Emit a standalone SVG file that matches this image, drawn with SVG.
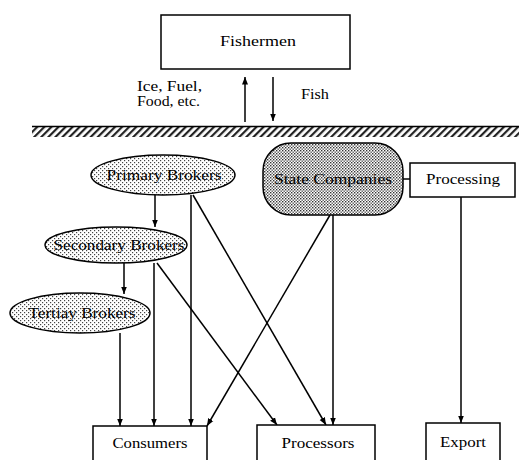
<svg xmlns="http://www.w3.org/2000/svg" width="519" height="460" viewBox="0 0 519 460">
<style>
  .box { fill: #fff; stroke: #000; stroke-width: 1.5; }
  .lbl { font-family: "Liberation Serif", "DejaVu Serif", serif; font-size: 15px; fill: #000; text-anchor: middle; }
  .side { font-family: "Liberation Serif", "DejaVu Serif", serif; font-size: 14px; fill: #000; }
  .conn { stroke: #000; stroke-width: 1.5; fill: none; }
  .arr { marker-end: url(#ah); }
  .oval { fill: url(#dots); stroke: #000; stroke-width: 1.5; }
</style>
<defs>
  <pattern id="dots" width="4" height="4" patternUnits="userSpaceOnUse">
    <rect width="4" height="4" fill="#fff"/>
    <rect x="0" y="0" width="1.2" height="1.2" fill="#444"/>
    <rect x="2" y="2" width="1.2" height="1.2" fill="#444"/>
  </pattern>
  <pattern id="dots2" width="3" height="3" patternUnits="userSpaceOnUse">
    <rect width="3" height="3" fill="#fff"/>
    <rect x="0" y="0" width="1.4" height="1.4" fill="#333"/>
    <rect x="1.5" y="1.5" width="1.4" height="1.4" fill="#555"/>
  </pattern>
  <pattern id="hatch" width="5" height="5" patternUnits="userSpaceOnUse" patternTransform="rotate(45)">
    <rect width="5" height="5" fill="#fff"/>
    <rect width="2.2" height="5" fill="#222"/>
  </pattern>
  <marker id="ah" viewBox="0 0 10 10" refX="10" refY="5" markerWidth="5" markerHeight="5" orient="auto" markerUnits="strokeWidth">
    <path d="M0,1 L10,5 L0,9 z" fill="#000"/>
  </marker>
</defs>

<rect x="32" y="126" width="487" height="11" fill="url(#hatch)"/>
<line x1="32" y1="126.5" x2="519" y2="126.5" stroke="#000" stroke-width="1.5"/>

<g id="connectors">
  <line class="conn arr" x1="245" y1="122" x2="245" y2="77"/>
  <line class="conn arr" x1="273" y1="77" x2="273" y2="121"/>
  <line class="conn arr" x1="155" y1="195" x2="155" y2="227"/>
  <line class="conn arr" x1="124" y1="263" x2="124" y2="294"/>
  <line class="conn arr" x1="191" y1="195" x2="191" y2="426"/>
  <line class="conn arr" x1="193" y1="195" x2="326" y2="425"/>
  <line class="conn arr" x1="154" y1="263" x2="154" y2="426"/>
  <line class="conn arr" x1="157" y1="263" x2="277" y2="425"/>
  <line class="conn arr" x1="120" y1="333" x2="120" y2="426"/>
  <line class="conn arr" x1="333" y1="215" x2="333" y2="425"/>
  <line class="conn arr" x1="330" y1="215" x2="207" y2="426"/>
  <line class="conn arr" x1="461" y1="197" x2="461" y2="423"/>
  <line class="conn" x1="403" y1="179" x2="410" y2="179"/>
</g>

<g id="fishermen">
  <rect class="box" x="161" y="15" width="189" height="54"/>
  <text class="lbl" x="258" y="46" textLength="76" lengthAdjust="spacingAndGlyphs">Fishermen</text>
</g>
<g id="label-inputs">
  <text class="side" x="137" y="91" textLength="65" lengthAdjust="spacingAndGlyphs">Ice, Fuel,</text>
  <text class="side" x="137" y="106" textLength="63" lengthAdjust="spacingAndGlyphs">Food, etc.</text>
</g>
<g id="label-fish">
  <text class="side" x="301" y="99" textLength="28" lengthAdjust="spacingAndGlyphs">Fish</text>
</g>

<g id="primary-brokers">
  <ellipse class="oval" cx="163" cy="175" rx="72" ry="20"/>
  <text class="lbl" x="164" y="180" textLength="115" lengthAdjust="spacingAndGlyphs">Primary Brokers</text>
</g>
<g id="secondary-brokers">
  <ellipse class="oval" cx="116" cy="245" rx="71" ry="18"/>
  <text class="lbl" x="119" y="250" textLength="131" lengthAdjust="spacingAndGlyphs">Secondary Brokers</text>
</g>
<g id="tertiary-brokers">
  <ellipse class="oval" cx="80" cy="313" rx="70" ry="20"/>
  <text class="lbl" x="82" y="318" textLength="107" lengthAdjust="spacingAndGlyphs">Tertiay Brokers</text>
</g>
<g id="state-companies">
  <rect x="263" y="143" width="140" height="72" rx="28" ry="28" fill="url(#dots2)" stroke="#000" stroke-width="1.5"/>
  <text class="lbl" x="333" y="184" textLength="118" lengthAdjust="spacingAndGlyphs">State Companies</text>
</g>
<g id="processing">
  <rect class="box" x="410" y="163" width="105" height="34"/>
  <text class="lbl" x="463" y="184" textLength="74" lengthAdjust="spacingAndGlyphs">Processing</text>
</g>
<g id="consumers">
  <path class="box" d="M93,461 V426 H207 V461"/>
  <text class="lbl" x="150" y="448" textLength="75" lengthAdjust="spacingAndGlyphs">Consumers</text>
</g>
<g id="processors">
  <path class="box" d="M257,461 V425 H375 V461"/>
  <text class="lbl" x="318" y="448" textLength="73" lengthAdjust="spacingAndGlyphs">Processors</text>
</g>
<g id="export">
  <path class="box" d="M426,461 V423 H500 V461"/>
  <text class="lbl" x="463" y="447" textLength="46" lengthAdjust="spacingAndGlyphs">Export</text>
</g>
</svg>
